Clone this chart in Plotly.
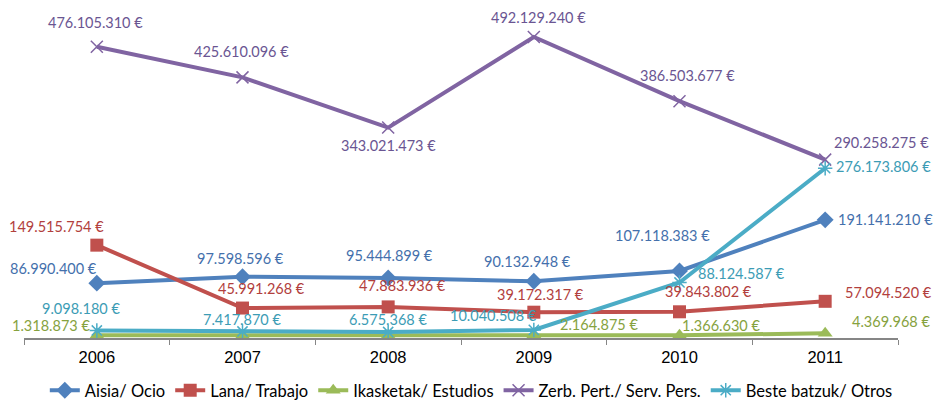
import plotly.graph_objects as go

# Categories and series values (euros)
years = ["2006", "2007", "2008", "2009", "2010", "2011"]

aisia_ocio = [86990400, 97598596, 95444899, 90132948, 107118383, 191141210]
lana_trabajo = [149515754, 45991268, 47883936, 39172317, 39843802, 57094520]
ikasketak_estudios = [1318873, 1250000, 1400000, 2164875, 1366630, 4369968]
zerb_serv_pers = [476105310, 425610096, 343021473, 492129240, 386503677, 290258275]
beste_otros = [9098180, 7417870, 6575368, 10040508, 88124587, 276173806]

series_names = [
    "Aisia/ Ocio",
    "Lana/ Trabajo",
    "Ikasketak/ Estudios",
    "Zerb. Pert./ Serv. Pers.",
    "Beste batzuk/ Otros",
]
series_values = [aisia_ocio, lana_trabajo, ikasketak_estudios, zerb_serv_pers, beste_otros]

# Which points carry a value label (Ikasketak 2007/2008 have none)
label_mask = [
    [1, 1, 1, 1, 1, 1],
    [1, 1, 1, 1, 1, 1],
    [1, 0, 0, 1, 1, 1],
    [1, 1, 1, 1, 1, 1],
    [1, 1, 1, 1, 1, 1],
]

line_colors = ["#4F81BD", "#C0504D", "#9BBB59", "#8064A2", "#4BACC6"]
label_colors = ["#4470AC", "#B2403D", "#86A23E", "#6A5592", "#3C9CB5"]
markers = [
    dict(symbol="diamond", size=13),
    dict(symbol="square", size=13),
    dict(symbol="triangle-up", size=13),
    dict(symbol="x-thin", size=12, line=dict(width=1.5)),
    dict(symbol="asterisk-open", size=12, line=dict(width=1.5)),
]

# Label offsets in pixels (dx, dy) from each point, dy positive = downwards
label_offsets = [
    [(-43, -15), (-2, -18), (1, -23), (-6, -20), (-17, -35), (60, 0)],
    [(-40, -19), (19, -20), (14, -21), (7, -18), (29, -20), (63, -9)],
    [(-46, -10), (0, 0), (0, 0), (65, -10), (41, -10), (66, -12)],
    [(-1, -24), (-1, -26), (0, 18), (5, -19), (8, -26), (56, -17)],
    [(-16, -22), (-1, -12), (0, -13), (-40, -14), (62, -9), (58, -2)],
]


def euro(v):
    return f"{v:,}".replace(",", ".") + " €"


fig = go.Figure()
annotations = []
for name, vals, lc, tc, mk, offs, mask in zip(
    series_names, series_values, line_colors, label_colors, markers, label_offsets, label_mask
):
    mk = dict(mk)
    mk["color"] = lc
    if "line" in mk:
        mk["line"] = dict(mk["line"], color=lc)
    fig.add_trace(
        go.Scatter(
            x=years,
            y=vals,
            name=name,
            mode="lines+markers",
            line=dict(color=lc, width=4),
            marker=mk,
            hoverinfo="skip",
        )
    )
    for i, (v, (dx, dy), show) in enumerate(zip(vals, offs, mask)):
        if not show:
            continue
        annotations.append(
            dict(
                x=i,
                y=v,
                xref="x",
                yref="y",
                text=euro(v),
                showarrow=False,
                xanchor="center",
                yanchor="middle",
                xshift=dx,
                yshift=-dy,
                font=dict(family="Lato, Open Sans, sans-serif", size=14.5, color=tc),
            )
        )

fig.update_layout(
    width=937,
    height=408,
    margin=dict(l=24, r=39, t=0, b=70),
    paper_bgcolor="white",
    plot_bgcolor="white",
    showlegend=True,
    annotations=annotations,
    legend=dict(
        orientation="h",
        xref="container",
        yref="container",
        x=0.503,
        xanchor="center",
        y=0.0,
        yanchor="bottom",
        font=dict(family="Lato, Open Sans, sans-serif", size=16.5, color="#000000"),
        tracegroupgap=0,
        itemwidth=30,
        bgcolor="rgba(0,0,0,0)",
    ),
)

fig.update_xaxes(
    type="category",
    showline=True,
    linecolor="#868686",
    linewidth=1.5,
    ticks="outside",
    tickson="boundaries",
    ticklen=5,
    tickcolor="#868686",
    showgrid=False,
    ticklabelstandoff=3,
    tickfont=dict(family="Liberation Sans Narrow, Arial Narrow, Liberation Sans, sans-serif", size=16.5, color="#000000"),
    range=[-0.5, 5.5],
)
fig.update_yaxes(
    range=[-3.3e6, 553e6],
    visible=False,
    showgrid=False,
    zeroline=False,
)

fig.write_html("out.html")
